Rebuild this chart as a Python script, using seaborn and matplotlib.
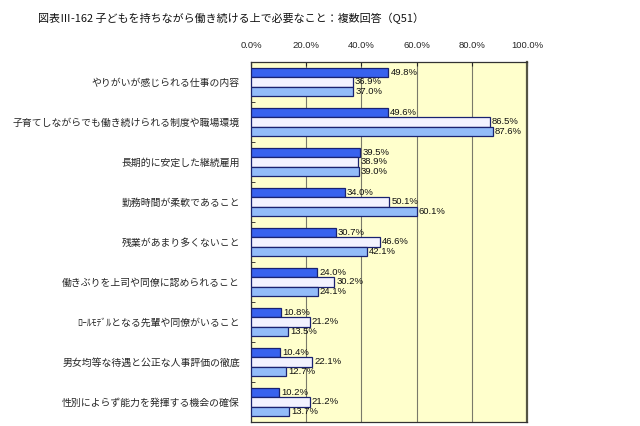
import pandas as pd
import matplotlib.pyplot as plt
import seaborn as sns
from matplotlib.ticker import FixedLocator

# データ
categories = [
    "やりがいが感じられる仕事の内容",
    "子育てしながらでも働き続けられる制度や職場環境",
    "長期的に安定した継続雇用",
    "勤務時間が柔軟であること",
    "残業があまり多くないこと",
    "働きぶりを上司や同僚に認められること",
    "ﾛｰﾙﾓﾃﾞﾙとなる先輩や同僚がいること",
    "男女均等な待遇と公正な人事評価の徹底",
    "性別によらず能力を発揮する機会の確保",
]
series_names = ["系列1", "系列2", "系列3"]
s1 = [49.8, 49.6, 39.5, 34.0, 30.7, 24.0, 10.8, 10.4, 10.2]
s2 = [36.9, 86.5, 38.9, 50.1, 46.6, 30.2, 21.2, 22.1, 21.2]
s3 = [37.0, 87.6, 39.0, 60.1, 42.1, 24.1, 13.5, 12.7, 13.7]
x_ticks = [0, 20, 40, 60, 80, 100]

df = pd.DataFrame({
    "項目": categories * 3,
    "系列": [series_names[0]] * 9 + [series_names[1]] * 9 + [series_names[2]] * 9,
    "割合": s1 + s2 + s3,
})

sns.set_style("white")
plt.rcParams['font.family'] = ['Noto Sans CJK JP', 'DejaVu Sans']

fig = plt.figure(figsize=(6.4, 4.26), dpi=100)
ax = fig.add_axes([251 / 640, 4 / 426, 276 / 640, 360 / 426])
ax.set_facecolor("#FFFFCC")

colors = ["#3862EE", "#F2F2FF", "#93BCF9"]
sns.barplot(data=df, y="項目", x="割合", hue="系列", orient="h",
            palette=colors, saturation=1, width=0.68, edgecolor="#1A2270",
            linewidth=0.9, ax=ax, legend=False, zorder=3)

# 値ラベル
for cont in ax.containers:
    ax.bar_label(cont, fmt="%.1f%%", padding=1.5, fontsize=6.8,
                 family="Liberation Sans", color="#111111")

ax.set_xlim(0, 100)
ax.set_ylim(8.5, -0.5)
ax.set_xticks(x_ticks)
ax.set_xticklabels([f"{t:.1f}%" for t in x_ticks], fontsize=6.8,
                   family="Liberation Sans")
ax.xaxis.tick_top()
ax.tick_params(axis="x", length=3, direction="in", pad=9, top=True)
ax.grid(axis="x", color="#7A7A6A", linewidth=0.8, zorder=0)
ax.grid(axis="y", visible=False)

ax.tick_params(axis="y", length=0, labelsize=7.1, pad=8)
ax.yaxis.set_minor_locator(FixedLocator([i - 0.5 for i in range(10)]))
ax.tick_params(axis="y", which="minor", length=3, direction="in", left=True,
               color="#222222")
ax.set_xlabel("")
ax.set_ylabel("")

for side in ["left", "top", "bottom"]:
    ax.spines[side].set_color("#333333")
    ax.spines[side].set_linewidth(0.9)
ax.spines["right"].set_color("#555544")
ax.spines["right"].set_linewidth(1.6)

fig.text(38 / 640, 1 - 18 / 426,
         "図表Ⅲ-162 子どもを持ちながら働き続ける上で必要なこと：複数回答（Q51）",
         fontsize=7.9, va="center", ha="left", color="#111111")

fig.savefig("out.png", dpi=100)
